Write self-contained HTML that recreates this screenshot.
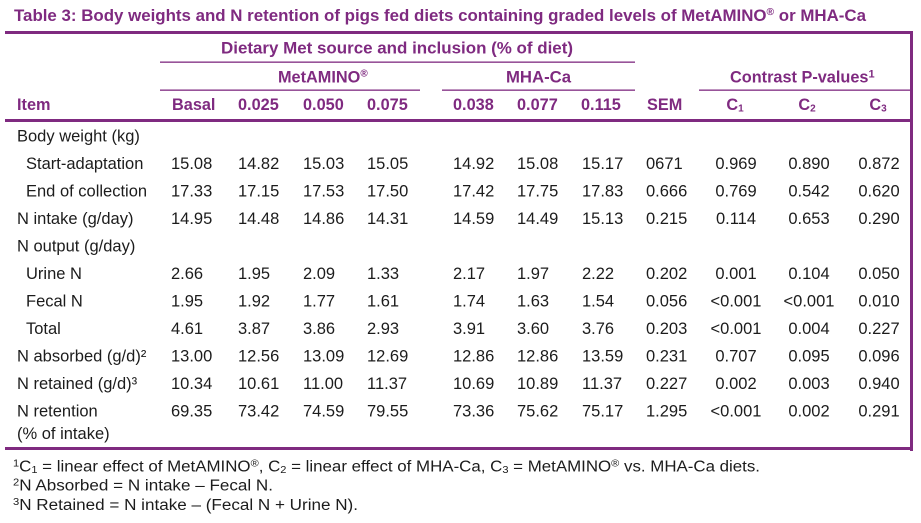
<!DOCTYPE html>
<html><head><meta charset="utf-8"><style>
html,body{margin:0;padding:0;background:#fff;}
svg{display:block;}
text{font-family:"Liberation Sans",Arial,sans-serif;}
.t{fill:#7f2a80;font-weight:bold;}
.h{fill:#7f2a80;font-weight:bold;font-size:16.3px;}
.d{fill:#1c1c1c;font-size:16.5px;}
.f{fill:#1c1c1c;font-size:15.3px;}
</style></head><body>
<svg width="921" height="523" viewBox="0 0 921 523" xmlns="http://www.w3.org/2000/svg">
<rect width="921" height="523" fill="#fff"/>
<!-- title -->
<text class="t" x="14" y="21" font-size="16.5" textLength="852" lengthAdjust="spacingAndGlyphs">Table 3: Body weights and N retention of pigs fed diets containing graded levels of MetAMINO<tspan font-size="10" dy="-6">®</tspan><tspan dy="6"> or MHA-Ca</tspan></text>
<!-- lines -->
<g fill="#7f2a80">
<rect x="5" y="31" width="908" height="3"/>
<rect x="910" y="31" width="3" height="420"/>
<rect x="160" y="61.5" width="475" height="1.3"/>
<rect x="160" y="89.5" width="260" height="1.3"/>
<rect x="442" y="89.5" width="193" height="1.3"/>
<rect x="699" y="89.5" width="214" height="1.3"/>
<rect x="5" y="119" width="908" height="3"/>
<rect x="5" y="447" width="908" height="3"/>
</g>
<!-- headers -->
<text class="h" x="221" y="53.5" textLength="352" lengthAdjust="spacingAndGlyphs">Dietary Met source and inclusion (% of diet)</text>
<text class="h" x="278" y="82.5">MetAMINO<tspan font-size="10" dy="-6">®</tspan></text>
<text class="h" x="506" y="82.5" textLength="65" lengthAdjust="spacingAndGlyphs">MHA-Ca</text>
<text class="h" x="730" y="82.5">Contrast P-values<tspan font-size="11" dy="-5">1</tspan></text>
<text class="h" x="17" y="110">Item</text>
<text class="h" x="172" y="110">Basal</text>
<text class="h" x="238" y="110">0.025</text>
<text class="h" x="303" y="110">0.050</text>
<text class="h" x="367" y="110">0.075</text>
<text class="h" x="453" y="110">0.038</text>
<text class="h" x="517" y="110">0.077</text>
<text class="h" x="581" y="110">0.115</text>
<text class="h" x="647" y="110">SEM</text>
<text class="h" x="735" y="110" text-anchor="middle">C<tspan font-size="10" dy="1.5">1</tspan></text>
<text class="h" x="807" y="110" text-anchor="middle">C<tspan font-size="10" dy="1.5">2</tspan></text>
<text class="h" x="878" y="110" text-anchor="middle">C<tspan font-size="10" dy="1.5">3</tspan></text>
<!-- labels -->
<g class="d">
<text x="17" y="141.5">Body weight (kg)</text>
<text x="26" y="169">Start-adaptation</text>
<text x="26" y="196.5">End of collection</text>
<text x="17" y="224">N intake (g/day)</text>
<text x="17" y="251.5">N output (g/day)</text>
<text x="26" y="279">Urine N</text>
<text x="26" y="306.5">Fecal N</text>
<text x="26" y="334">Total</text>
<text x="17" y="361.5">N absorbed (g/d)²</text>
<text x="17" y="389">N retained (g/d)³</text>
<text x="17" y="416.5">N retention</text>
<text x="17" y="439">(% of intake)</text>
</g>
<!-- data: left-aligned columns -->
<g class="d">
<text y="169"><tspan x="171">15.08</tspan><tspan x="238">14.82</tspan><tspan x="303">15.03</tspan><tspan x="367">15.05</tspan><tspan x="453">14.92</tspan><tspan x="517">15.08</tspan><tspan x="582">15.17</tspan><tspan x="646">0671</tspan></text>
<text y="196.5"><tspan x="171">17.33</tspan><tspan x="238">17.15</tspan><tspan x="303">17.53</tspan><tspan x="367">17.50</tspan><tspan x="453">17.42</tspan><tspan x="517">17.75</tspan><tspan x="582">17.83</tspan><tspan x="646">0.666</tspan></text>
<text y="224"><tspan x="171">14.95</tspan><tspan x="238">14.48</tspan><tspan x="303">14.86</tspan><tspan x="367">14.31</tspan><tspan x="453">14.59</tspan><tspan x="517">14.49</tspan><tspan x="582">15.13</tspan><tspan x="646">0.215</tspan></text>
<text y="279"><tspan x="171">2.66</tspan><tspan x="238">1.95</tspan><tspan x="303">2.09</tspan><tspan x="367">1.33</tspan><tspan x="453">2.17</tspan><tspan x="517">1.97</tspan><tspan x="582">2.22</tspan><tspan x="646">0.202</tspan></text>
<text y="306.5"><tspan x="171">1.95</tspan><tspan x="238">1.92</tspan><tspan x="303">1.77</tspan><tspan x="367">1.61</tspan><tspan x="453">1.74</tspan><tspan x="517">1.63</tspan><tspan x="582">1.54</tspan><tspan x="646">0.056</tspan></text>
<text y="334"><tspan x="171">4.61</tspan><tspan x="238">3.87</tspan><tspan x="303">3.86</tspan><tspan x="367">2.93</tspan><tspan x="453">3.91</tspan><tspan x="517">3.60</tspan><tspan x="582">3.76</tspan><tspan x="646">0.203</tspan></text>
<text y="361.5"><tspan x="171">13.00</tspan><tspan x="238">12.56</tspan><tspan x="303">13.09</tspan><tspan x="367">12.69</tspan><tspan x="453">12.86</tspan><tspan x="517">12.86</tspan><tspan x="582">13.59</tspan><tspan x="646">0.231</tspan></text>
<text y="389"><tspan x="171">10.34</tspan><tspan x="238">10.61</tspan><tspan x="303">11.00</tspan><tspan x="367">11.37</tspan><tspan x="453">10.69</tspan><tspan x="517">10.89</tspan><tspan x="582">11.37</tspan><tspan x="646">0.227</tspan></text>
<text y="416.5"><tspan x="171">69.35</tspan><tspan x="238">73.42</tspan><tspan x="303">74.59</tspan><tspan x="367">79.55</tspan><tspan x="453">73.36</tspan><tspan x="517">75.62</tspan><tspan x="582">75.17</tspan><tspan x="646">1.295</tspan></text>
</g>
<!-- contrast columns: centered -->
<g class="d" text-anchor="middle">
<text y="169"><tspan x="736">0.969</tspan><tspan x="809">0.890</tspan><tspan x="879">0.872</tspan></text>
<text y="196.5"><tspan x="736">0.769</tspan><tspan x="809">0.542</tspan><tspan x="879">0.620</tspan></text>
<text y="224"><tspan x="736">0.114</tspan><tspan x="809">0.653</tspan><tspan x="879">0.290</tspan></text>
<text y="279"><tspan x="736">0.001</tspan><tspan x="809">0.104</tspan><tspan x="879">0.050</tspan></text>
<text y="306.5"><tspan x="736">&lt;0.001</tspan><tspan x="809">&lt;0.001</tspan><tspan x="879">0.010</tspan></text>
<text y="334"><tspan x="736">&lt;0.001</tspan><tspan x="809">0.004</tspan><tspan x="879">0.227</tspan></text>
<text y="361.5"><tspan x="736">0.707</tspan><tspan x="809">0.095</tspan><tspan x="879">0.096</tspan></text>
<text y="389"><tspan x="736">0.002</tspan><tspan x="809">0.003</tspan><tspan x="879">0.940</tspan></text>
<text y="416.5"><tspan x="736">&lt;0.001</tspan><tspan x="809">0.002</tspan><tspan x="879">0.291</tspan></text>
</g>
<!-- footnotes -->
<text class="f" x="13" y="471.5" textLength="747" lengthAdjust="spacingAndGlyphs"><tspan font-size="10" dy="-5">1</tspan><tspan dy="5">C</tspan><tspan font-size="10" dy="1.5">1</tspan><tspan dy="-1.5"> = linear effect of MetAMINO</tspan><tspan font-size="10" dy="-5">®</tspan><tspan dy="5">, C</tspan><tspan font-size="10" dy="1.5">2</tspan><tspan dy="-1.5"> = linear effect of MHA-Ca, C</tspan><tspan font-size="10" dy="1.5">3</tspan><tspan dy="-1.5"> = MetAMINO</tspan><tspan font-size="10" dy="-5">®</tspan><tspan dy="5"> vs. MHA-Ca diets.</tspan></text>
<text class="f" x="13" y="490.7" textLength="260" lengthAdjust="spacingAndGlyphs"><tspan font-size="10" dy="-5">2</tspan><tspan dy="5">N Absorbed = N intake – Fecal N.</tspan></text>
<text class="f" x="13" y="510" textLength="345" lengthAdjust="spacingAndGlyphs"><tspan font-size="10" dy="-5">3</tspan><tspan dy="5">N Retained = N intake – (Fecal N + Urine N).</tspan></text>
</svg>
</body></html>
